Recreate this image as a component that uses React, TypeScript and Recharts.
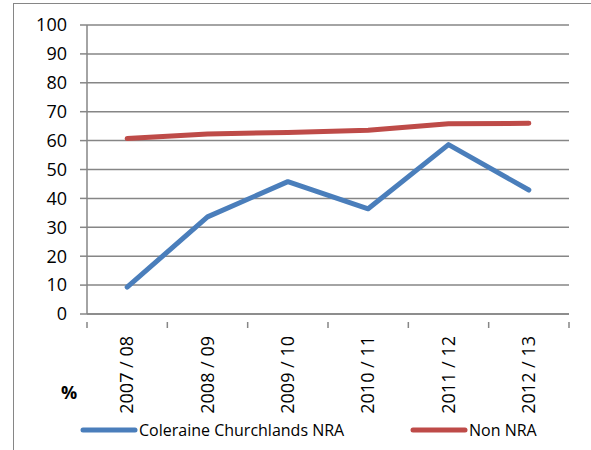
import { LineChart, Line, XAxis, YAxis, CartesianGrid, Legend } from 'recharts';

const periods = ['2007 / 08', '2008 / 09', '2009 / 10', '2010 / 11', '2011 / 12', '2012 / 13'];
const colerainePct = [9.3, 33.6, 45.8, 36.4, 58.6, 42.9];
const nonNraPct = [60.7, 62.3, 62.8, 63.6, 65.8, 66.0];
const yTicks = [0, 10, 20, 30, 40, 50, 60, 70, 80, 90, 100];

const BLUE = '#4A7EBB';
const RED = '#BE4B48';
const GRID = '#868686';
const FONT = '"Open Sans", sans-serif';

// x is the middle of each category band; integer positions are the band edges
const data = periods.map((period, i) => ({
  x: i + 0.5,
  period,
  coleraine: colerainePct[i],
  nonNra: nonNraPct[i],
}));
const xTicks = Array.from({ length: periods.length * 2 + 1 }, (_, i) => i / 2);

const XTick = (props: any) => {
  const { x, y, payload } = props;
  const v = payload.value as number;
  if (Number.isInteger(v)) {
    return <line x1={x} y1={y} x2={x} y2={y + 6} stroke={GRID} strokeWidth={1.5} />;
  }
  const label = periods[Math.floor(v)];
  return (
    <text
      x={x}
      y={y + 14}
      transform={`rotate(-90, ${x}, ${y + 14})`}
      textAnchor="end"
      dy="0.35em"
      fontSize={18}
      fontFamily={FONT}
      fill="#000"
    >
      {label}
    </text>
  );
};

const LegendContent = () => (
  <div style={{ position: 'relative', width: 591, height: 24, fontFamily: FONT, fontSize: 16 }}>
    {[
      { name: 'Coleraine Churchlands NRA', color: BLUE, left: 80 },
      { name: 'Non NRA', color: RED, left: 410 },
    ].map((item) => (
      <div
        key={item.name}
        style={{ position: 'absolute', left: item.left, top: 0, height: 24, display: 'flex', alignItems: 'center' }}
      >
        <svg width={58} height={10}>
          <line x1={3} y1={5} x2={55} y2={5} stroke={item.color} strokeWidth={5} strokeLinecap="round" />
        </svg>
        <span style={{ color: '#000', marginLeft: 1, whiteSpace: 'nowrap' }}>{item.name}</span>
      </div>
    ))}
  </div>
);

export default function App() {
  return (
    <div style={{ position: 'absolute', left: 0, top: 0, width: 591, height: 450, overflow: 'hidden', background: '#fff' }}>
      <div
        style={{
          position: 'absolute',
          left: 13,
          top: 3,
          width: 620,
          height: 480,
          borderLeft: `1.5px solid ${GRID}`,
          borderTop: `1.5px solid ${GRID}`,
        }}
      />
      <div
        style={{
          position: 'absolute',
          left: 61,
          top: 380,
          fontFamily: FONT,
          fontSize: 18,
          fontWeight: 700,
        }}
      >
        %
      </div>
      <div style={{ position: 'absolute', left: 0, top: 0 }}>
        <LineChart width={591} height={450} data={data} margin={{ top: 25, right: 22, left: 0, bottom: 8 }}>
          <CartesianGrid vertical={false} stroke={GRID} strokeWidth={1.5} />
          <XAxis
            dataKey="x"
            type="number"
            domain={[0, periods.length]}
            ticks={xTicks}
            interval={0}
            tickLine={false}
            tick={<XTick />}
            axisLine={{ stroke: GRID, strokeWidth: 1.5 }}
            height={104}
          />
          <YAxis
            domain={[0, 100]}
            ticks={yTicks}
            interval={0}
            width={87}
            tickSize={7}
            tickMargin={13}
            tickLine={{ stroke: GRID, strokeWidth: 1.5 }}
            axisLine={{ stroke: GRID, strokeWidth: 1.5 }}
            tick={{ fill: '#000', fontSize: 18, fontFamily: FONT }}
          />
          <Legend verticalAlign="bottom" align="left" content={<LegendContent />} wrapperStyle={{ left: 0, height: 24 }} />
          <Line
            type="linear"
            dataKey="coleraine"
            name="Coleraine Churchlands NRA"
            stroke={BLUE}
            strokeWidth={5}
            strokeLinecap="round"
            strokeLinejoin="round"
            dot={false}
            isAnimationActive={false}
          />
          <Line
            type="linear"
            dataKey="nonNra"
            name="Non NRA"
            stroke={RED}
            strokeWidth={5}
            strokeLinecap="round"
            strokeLinejoin="round"
            dot={false}
            isAnimationActive={false}
          />
        </LineChart>
      </div>
    </div>
  );
}
